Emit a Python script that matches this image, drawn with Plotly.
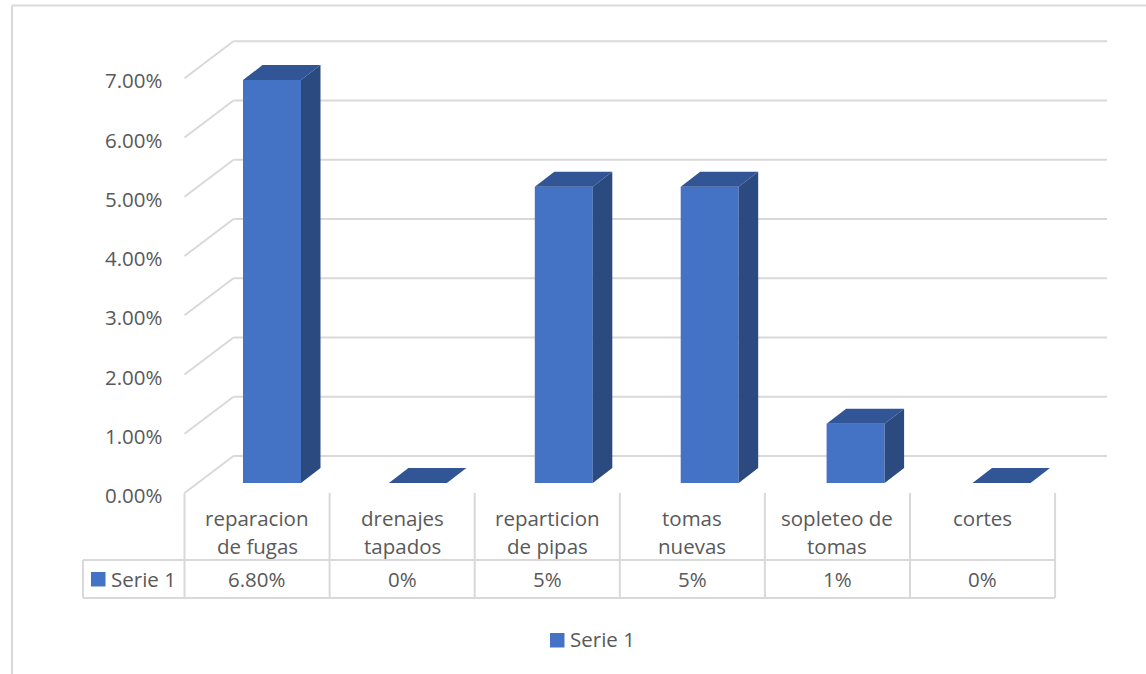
import plotly.graph_objects as go

categories = [["reparacion", "de fugas"], ["drenajes", "tapados"], ["reparticion", "de pipas"],
              ["tomas", "nuevas"], ["sopleteo de", "tomas"], ["cortes"]]
values = [6.8, 0, 5, 5, 1, 0]
table_labels = ["6.80%", "0%", "5%", "5%", "1%", "0%"]
y_ticks = [0, 1, 2, 3, 4, 5, 6, 7]
y_tick_labels = ["0.00%", "1.00%", "2.00%", "3.00%", "4.00%", "5.00%", "6.00%", "7.00%"]
series_name = "Serie 1"

W, H = 1146, 674
X0, XU = 184.5, 145.1     # px of category edge 0, px per category
Y0, YU = 493.0, 59.25     # px of value 0, px per 1 %
GRID = "#D9D9D9"
TEXT = "#595959"
FONT = "Open Sans"
FS = 20.5


def px_x(p):
    return (p - X0) / XU


def px_y(p):
    return (Y0 - p) / YU


n = len(values)
wall_dx, wall_dy = 49 / XU, 37 / YU
bar_w = 58 / XU
bar_start = px_x(272)
bar_pitch = 145.9 / XU
bar_off_y = 10 / YU
bar_dx, bar_dy = 19.5 / XU, 15 / YU

centers = [bar_start + i * bar_pitch for i in range(n)]

fig = go.Figure()
fig.add_trace(go.Bar(x=centers, y=values, base=bar_off_y, width=bar_w,
                     marker=dict(color="#4472C4", line=dict(width=0)),
                     name=series_name, showlegend=False, hoverinfo="skip"))

side_x, side_y, top_x, top_y = [], [], [], []
for c, v in zip(centers, values):
    l, r = c - bar_w / 2, c + bar_w / 2
    b, t = bar_off_y, bar_off_y + v
    if v > 0:
        side_x += [r, r + bar_dx, r + bar_dx, r, r, None]
        side_y += [b, b + bar_dy, t + bar_dy, t, b, None]
    top_x += [l, r, r + bar_dx, l + bar_dx, l, None]
    top_y += [t, t, t + bar_dy, t + bar_dy, t, None]
fig.add_trace(go.Scatter(x=side_x, y=side_y, mode="lines", fill="toself", fillcolor="#2A4A80",
                         line=dict(width=0), showlegend=False, hoverinfo="skip"))
fig.add_trace(go.Scatter(x=top_x, y=top_y, mode="lines", fill="toself", fillcolor="#325596",
                         line=dict(width=0), showlegend=False, hoverinfo="skip"))

shapes = []


def line(x0, y0, x1, y1, xref="x", yref="y", color=GRID, width=2):
    shapes.append(dict(type="line", x0=x0, y0=y0, x1=x1, y1=y1, xref=xref, yref=yref,
                       layer="below", line=dict(color=color, width=width)))


# perspective gridlines, built from the axis ticks
for t in y_ticks:
    line(0, t, wall_dx, t + wall_dy)
    line(wall_dx, t + wall_dy, px_x(1107), t + wall_dy)

# data table
table_top, table_mid, table_bot = px_y(493), px_y(560), px_y(598)
for i in range(n + 1):
    line(i, table_top, i, table_bot)
line(px_x(83), table_mid, n, table_mid)
line(px_x(83), table_bot, n, table_bot)
line(px_x(83), table_mid, px_x(83), table_bot)

# outer chart frame
line(px_x(12), px_y(5.5), px_x(W), px_y(5.5))
line(px_x(12), px_y(5.5), px_x(12), px_y(H))

# legend keys
for x, y in [(91, 572), (550, 633)]:
    shapes.append(dict(type="rect", x0=px_x(x), x1=px_x(x + 14.5), y0=px_y(y), y1=px_y(y + 14.5),
                       xref="x", yref="y", line=dict(width=0), fillcolor="#4472C4"))

annotations = []


def label(x, y, text, anchor="center"):
    annotations.append(dict(x=x, y=y, xref="x", yref="y", text=text, showarrow=False,
                            xanchor=anchor, yanchor="middle", borderpad=0,
                            font=dict(family=FONT, size=FS, color=TEXT)))


for i, lines in enumerate(categories):
    for j, s in enumerate(lines):
        label(i + 0.5, px_y(517.5 + j * 28), s)
for i, s in enumerate(table_labels):
    label(i + 0.5, px_y(579), s)
label(px_x(110), px_y(579), series_name, "left")
label(px_x(568.5), px_y(638.5), series_name, "left")

fig.update_layout(
    width=W, height=H, margin=dict(l=0, r=0, t=0, b=0), autosize=False,
    paper_bgcolor="white", plot_bgcolor="white", showlegend=False,
    shapes=shapes, annotations=annotations,
    xaxis=dict(range=[px_x(0), px_x(W)], visible=False, fixedrange=True),
    yaxis=dict(range=[px_y(H), px_y(0)], anchor="free", position=162.5 / W, tickvals=y_ticks,
               ticktext=y_tick_labels, showgrid=False, zeroline=False, showline=False,
               ticks="", fixedrange=True, automargin=False, ticklabelshift=3,
               tickfont=dict(family=FONT, size=FS, color=TEXT)),
)
fig.write_html("out.html", config=dict(displayModeBar=False),
               post_script="document.body.style.margin='0';document.body.style.overflow='hidden';")
